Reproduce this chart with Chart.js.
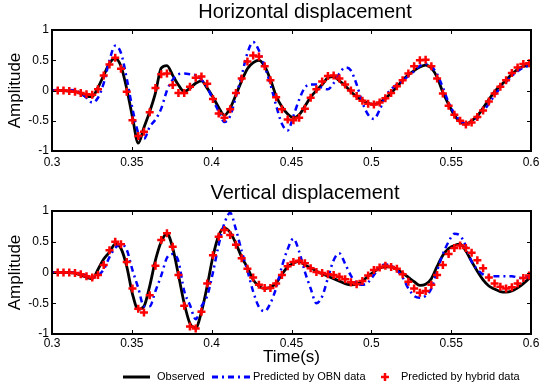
<!DOCTYPE html>
<html>
<head>
<meta charset="utf-8">
<script src="https://cdn.jsdelivr.net/npm/chart.js@4.4.1/dist/chart.umd.min.js"></script>
<style>
  body { margin: 0; background: #fff; }
  #wrap { position: relative; width: 544px; height: 390px; }
  canvas { position: absolute; left: 0; }
</style>
</head>
<body>
<div id="wrap">
  <canvas id="horiz" width="544" height="180" style="top:0"></canvas>
  <canvas id="vert" width="544" height="210" style="top:180px"></canvas>
</div>
<script>
// Seismic trace comparison - horizontal and vertical components

const panelTitles = ['Horizontal displacement', 'Vertical displacement'];
const seriesNames = ['Observed', 'Predicted by OBN data', 'Predicted by hybrid data'];

const xTickValues = [0.3, 0.35, 0.4, 0.45, 0.5, 0.55, 0.6];
const xTickLabels = ['0.3', '0.35', '0.4', '0.45', '0.5', '0.55', '0.6'];
const yTickValues = [-1, -0.5, 0, 0.5, 1];
const yTickLabels = ['-1', '-0.5', '0', '0.5', '1'];

// sample times (s)
const timeS = [
  0.3000, 0.3036, 0.3072, 0.3108, 0.3144, 0.3180, 0.3216, 0.3252, 0.3288, 0.3324,
  0.3360, 0.3396, 0.3432, 0.3468, 0.3504, 0.3540, 0.3576, 0.3612, 0.3648, 0.3684,
  0.3720, 0.3756, 0.3792, 0.3828, 0.3864, 0.3900, 0.3936, 0.3972, 0.4008, 0.4044,
  0.4080, 0.4116, 0.4152, 0.4188, 0.4224, 0.4260, 0.4296, 0.4332, 0.4368, 0.4404,
  0.4440, 0.4476, 0.4512, 0.4548, 0.4584, 0.4620, 0.4656, 0.4692, 0.4728, 0.4764,
  0.4800, 0.4836, 0.4872, 0.4908, 0.4944, 0.4980, 0.5016, 0.5052, 0.5088, 0.5124,
  0.5160, 0.5196, 0.5232, 0.5268, 0.5304, 0.5340, 0.5376, 0.5412, 0.5448, 0.5484,
  0.5520, 0.5556, 0.5592, 0.5628, 0.5664, 0.5700, 0.5736, 0.5772, 0.5808, 0.5844,
  0.5880, 0.5916, 0.5952, 0.5988, 0.6000
];

const horizObserved = [
  0, 0, 0, -0.01, -0.02, -0.05, -0.1, -0.1, 0.05, 0.25,
  0.45, 0.53, 0.4, 0.03, -0.44, -0.87, -0.61, -0.35, -0.04, 0.37,
  0.41, 0.25, 0.09, -0.02, 0.04, 0.12, 0.16, 0.04, -0.11, -0.28,
  -0.41, -0.29, -0.07, 0.16, 0.36, 0.46, 0.5, 0.4, 0.18, -0.09,
  -0.27, -0.39, -0.45, -0.4, -0.26, -0.11, 0.0, 0.1, 0.21, 0.23,
  0.16, 0.08, -0.02, -0.1, -0.16, -0.21, -0.23, -0.2, -0.13, -0.04,
  0.06, 0.17, 0.26, 0.33, 0.39, 0.42, 0.37, 0.22, -0.03, -0.23,
  -0.41, -0.52, -0.56, -0.5, -0.42, -0.29, -0.15, -0.02, 0.08, 0.17,
  0.27, 0.35, 0.4, 0.41, 0.4
];
const horizObn = [
  0, 0.01, 0.01, 0.01, 0, -0.04, -0.12, -0.2, -0.12, 0.12,
  0.5, 0.74, 0.62, 0.2, -0.3, -0.7, -0.8, -0.6, -0.48, -0.3,
  0.0, 0.18, 0.27, 0.28, 0.27, 0.25, 0.18, 0.05, -0.15, -0.35,
  -0.52, -0.42, -0.1, 0.25, 0.62, 0.8, 0.66, 0.4, 0.1, -0.25,
  -0.55, -0.66, -0.42, -0.15, 0.05, 0.1, 0.1, 0.04, 0.02, 0.12,
  0.28, 0.38, 0.33, 0.1, -0.2, -0.4, -0.47, -0.32, -0.1, 0.02,
  0.1, 0.16, 0.24, 0.32, 0.41, 0.44, 0.4, 0.27, 0.05, -0.2,
  -0.38, -0.5, -0.55, -0.53, -0.46, -0.35, -0.22, -0.08, 0.04, 0.14,
  0.24, 0.32, 0.38, 0.41, 0.42
];
const horizHybrid = [
  null, 0, 0, -0.01, -0.02, -0.04, -0.06, -0.07, 0.02, 0.25,
  0.43, 0.54, 0.36, -0.02, -0.49, -0.75, -0.68, -0.36, 0.04, 0.27,
  0.28, 0.09, -0.04, -0.04, 0.06, 0.21, 0.23, 0.11, -0.14, -0.38,
  -0.45, -0.31, -0.04, 0.2, 0.48, 0.58, 0.56, 0.4, 0.17, -0.11,
  -0.31, -0.48, -0.49, -0.45, -0.3, -0.12, 0.02, 0.15, 0.24, 0.25,
  0.2, 0.1, 0.0, -0.09, -0.17, -0.22, -0.23, -0.2, -0.13, -0.04,
  0.07, 0.17, 0.28, 0.4, 0.5, 0.51, 0.4, 0.2, -0.05, -0.25,
  -0.4, -0.5, -0.56, -0.53, -0.44, -0.33, -0.18, -0.05, 0.06, 0.17,
  0.29, 0.38, 0.44, 0.45, null
];

const vertObserved = [
  0, 0, 0, 0, -0.01, -0.04, -0.08, -0.1, 0.05, 0.22,
  0.33, 0.46, 0.39, 0.1, -0.35, -0.6, -0.55, -0.22, 0.2, 0.5,
  0.63, 0.4, -0.04, -0.5, -0.83, -0.9, -0.64, -0.22, 0.26, 0.6,
  0.72, 0.65, 0.47, 0.25, 0.08, -0.12, -0.22, -0.26, -0.24, -0.17,
  -0.03, 0.09, 0.15, 0.19, 0.12, 0.08, 0.02, -0.02, -0.06, -0.1,
  -0.14, -0.18, -0.2, -0.19, -0.14, -0.06, 0.01, 0.07, 0.09, 0.09,
  0.05, -0.01, -0.08, -0.15, -0.21, -0.19, -0.1, 0.1, 0.28, 0.39,
  0.44, 0.46, 0.35, 0.18, 0.02, -0.12, -0.22, -0.27, -0.31, -0.32,
  -0.3, -0.25, -0.18, -0.1, -0.08
];
const vertObn = [
  0, 0, 0, 0, 0, -0.02, -0.05, -0.08, -0.05, 0.05,
  0.25, 0.4, 0.46, 0.37, 0.04, -0.25, -0.55, -0.55, -0.3, -0.05,
  0.24, 0.3, 0.18, -0.3, -0.53, -0.76, -0.55, -0.38, 0.0, 0.45,
  0.8, 0.97, 0.7, 0.35, 0.03, -0.31, -0.56, -0.63, -0.5, -0.25,
  0.1, 0.38, 0.55, 0.34, 0.01, -0.26, -0.5, -0.39, -0.09, 0.2,
  0.31, 0.14, -0.05, -0.18, -0.2, -0.16, -0.04, 0.09, 0.13, 0.11,
  0.04, -0.08, -0.26, -0.38, -0.41, -0.38, -0.26, 0.03, 0.3, 0.5,
  0.63, 0.6, 0.43, 0.18, 0.05, -0.03, -0.06, -0.06, -0.06, -0.06,
  -0.06, -0.08, -0.09, -0.06, -0.04
];
const vertHybrid = [
  null, 0, 0, 0, -0.01, -0.03, -0.06, -0.08, -0.04, 0.12,
  0.36, 0.5, 0.46, 0.17, -0.26, -0.59, -0.65, -0.37, 0.11, 0.53,
  0.64, 0.42, -0.04, -0.54, -0.88, -0.91, -0.64, -0.18, 0.28, 0.58,
  0.69, 0.61, 0.45, 0.23, 0.06, -0.08, -0.2, -0.25, -0.25, -0.18,
  -0.04, 0.1, 0.17, 0.19, 0.15, 0.07, 0.01, -0.01, -0.03, -0.04,
  -0.07, -0.11, -0.16, -0.19, -0.14, -0.05, 0.04, 0.08, 0.11, 0.09,
  0.06, -0.03, -0.15, -0.26, -0.33, -0.3, -0.2, -0.04, 0.12, 0.3,
  0.4, 0.44, 0.4, 0.32, 0.2, 0.07, -0.08, -0.18, -0.23, -0.26,
  -0.24, -0.18, -0.09, -0.05, null
];

const FONT = '"Liberation Sans", Arial, sans-serif';
Chart.defaults.font.family = FONT;
Chart.defaults.color = '#000';

const BLACK = '#000000';
const BLUE = '#0000ff';
const RED = '#ff0000';
const OBN_DASH = [6, 4, 2, 4];

// Box round the plot with MATLAB style inward ticks, plus the panel title
const boxPlugin = {
  id: 'matlabBox',
  afterDraw(chart, args, opts) {
    const { ctx, chartArea: a, scales: { x, y } } = chart;
    ctx.save();
    ctx.strokeStyle = '#000';
    ctx.lineWidth = 1;
    ctx.beginPath();
    xTickValues.forEach(v => {
      const px = Math.round(x.getPixelForValue(v)) + 0.5;
      ctx.moveTo(px, a.bottom); ctx.lineTo(px, a.bottom - 4);
      ctx.moveTo(px, a.top); ctx.lineTo(px, a.top + 4);
    });
    yTickValues.forEach(v => {
      const py = Math.round(y.getPixelForValue(v)) + 0.5;
      ctx.moveTo(a.left, py); ctx.lineTo(a.left + 4, py);
      ctx.moveTo(a.right, py); ctx.lineTo(a.right - 4, py);
    });
    ctx.stroke();
    ctx.lineWidth = 2;
    ctx.strokeRect(a.left, a.top, a.right - a.left, a.bottom - a.top);

    // panel title
    ctx.fillStyle = '#000';
    ctx.font = '20px ' + FONT;
    ctx.textAlign = 'center';
    ctx.textBaseline = 'middle';
    ctx.fillText(opts.text, opts.cx, opts.cy);
    ctx.restore();
  }
};

// MATLAB style legend row under the lower panel (samples have different widths)
const legendPlugin = {
  id: 'traceLegend',
  afterDraw(chart, args, opts) {
    if (!opts.show) return;
    const { ctx } = chart;
    const y = opts.y;
    ctx.save();
    // observed
    ctx.strokeStyle = BLACK; ctx.lineWidth = 3;
    ctx.beginPath(); ctx.moveTo(123, y); ctx.lineTo(150, y); ctx.stroke();
    // OBN
    ctx.strokeStyle = BLUE; ctx.lineWidth = 3; ctx.setLineDash(OBN_DASH);
    ctx.beginPath(); ctx.moveTo(212, y); ctx.lineTo(250, y); ctx.stroke();
    ctx.setLineDash([]);
    // hybrid
    ctx.strokeStyle = RED; ctx.lineWidth = 2.5;
    ctx.beginPath();
    ctx.moveTo(385, y - 4); ctx.lineTo(385, y + 4);
    ctx.moveTo(381, y); ctx.lineTo(389, y);
    ctx.stroke();
    // labels
    ctx.fillStyle = '#000';
    ctx.font = '11px ' + FONT;
    ctx.textAlign = 'left';
    ctx.textBaseline = 'middle';
    ctx.fillText(seriesNames[0], 157, y);
    ctx.fillText(seriesNames[1], 253, y);
    ctx.fillText(seriesNames[2], 401, y);
    ctx.restore();
  }
};

function pts(values) {
  return timeS.map((t, i) => ({ x: t, y: values[i] }));
}

function makeDatasets(obs, obn, hyb) {
  return [
    {
      label: seriesNames[0], data: pts(obs),
      borderColor: BLACK, borderWidth: 2.8, pointRadius: 0,
      cubicInterpolationMode: 'monotone', order: 3
    },
    {
      label: seriesNames[1], data: pts(obn),
      borderColor: BLUE, borderWidth: 2.5, borderDash: OBN_DASH, pointRadius: 0,
      cubicInterpolationMode: 'monotone', order: 2
    },
    {
      label: seriesNames[2], data: pts(hyb), showLine: false,
      pointStyle: 'cross', pointRadius: 4, borderColor: RED, backgroundColor: RED,
      pointBorderWidth: 2.5, order: 1
    }
  ];
}

function makeOptions(cfg) {
  return {
    responsive: false,
    animation: false,
    devicePixelRatio: 1,
    layout: { padding: { left: 0, right: 13, top: cfg.top, bottom: cfg.bottom } },
    plugins: {
      tooltip: { enabled: false },
      legend: { display: false },
      matlabBox: { text: cfg.title, cx: 305, cy: cfg.titleY },
      traceLegend: { show: cfg.legend, y: 197 }
    },
    scales: {
      x: {
        type: 'linear', min: 0.3, max: 0.6,
        grid: { display: false, drawTicks: false },
        border: { display: false },
        afterBuildTicks: s => { s.ticks = xTickValues.map(v => ({ value: v })); },
        afterFit: s => { s.height = cfg.xHeight; },
        ticks: {
          autoSkip: false, maxRotation: 0, padding: cfg.xPad,
          font: { size: 12 },
          callback: (v, i) => xTickLabels[i]
        },
        title: {
          display: cfg.timeTitle, text: 'Time(s)',
          font: { size: 17, lineHeight: 0.7 }, padding: { top: 0, bottom: 0 }
        }
      },
      y: {
        min: -1, max: 1,
        grid: { display: false, drawTicks: false },
        border: { display: false },
        afterBuildTicks: s => { s.ticks = yTickValues.map(v => ({ value: v })); },
        afterFit: s => { s.width = 52; },
        ticks: {
          padding: 3, font: { size: 12 },
          callback: (v, i) => yTickLabels[i]
        },
        title: {
          display: true, text: 'Amplitude',
          font: { size: 17, lineHeight: 1 }, padding: { top: 7, bottom: 0 }
        }
      }
    }
  };
}

new Chart(document.getElementById('horiz'), {
  type: 'line',
  data: { datasets: makeDatasets(horizObserved, horizObn, horizHybrid) },
  options: makeOptions({ title: panelTitles[0], titleY: 12, top: 30, bottom: 0, xHeight: 29, xPad: 4, timeTitle: false, legend: false }),
  plugins: [boxPlugin, legendPlugin]
});

new Chart(document.getElementById('vert'), {
  type: 'line',
  data: { datasets: makeDatasets(vertObserved, vertObn, vertHybrid) },
  options: makeOptions({ title: panelTitles[1], titleY: 13, top: 31, bottom: 27, xHeight: 29, xPad: 2, timeTitle: true, legend: true }),
  plugins: [boxPlugin, legendPlugin]
});
</script>
</body>
</html>
